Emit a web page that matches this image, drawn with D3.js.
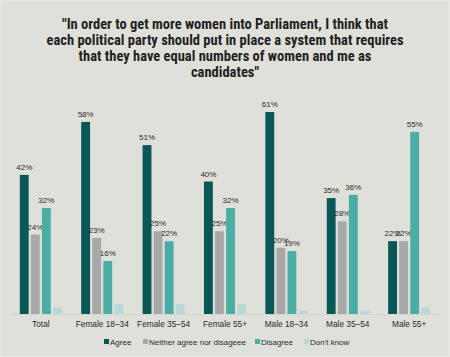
<!DOCTYPE html>
<html><head><meta charset="utf-8">
<script src="https://cdn.jsdelivr.net/npm/d3@7"></script>
<style>
html,body{margin:0;padding:0;background:#e0e0da;}
svg{display:block;}
</style></head>
<body>
<script>
const categories = ["Total","Female 18\u201334","Female 35\u201354","Female 55+","Male 18\u201334","Male 35\u201354","Male 55+"];
const seriesNames = ["Agree","Neither agree nor disageee","Disagree","Don't know"];
const agree    = [42,58,51,40,61,35,22];
const neither  = [24,23,25,25,20,28,22];
const disagree = [32,16,22,32,19,36,55];
const dontKnow = [2,3,3,3,1,1,2];
const titleLines = ["\"In order to get more women into Parliament, I think that",
  "each political party should put in place a system that requires",
  "that they have equal numbers of women and me as",
  "candidates\""];
const colors = ["#0a5757","#a8a8a8","#4aaea5","#b9d9d6"];
const series = [agree, neither, disagree, dontKnow];

const W = 450, H = 357;
const svg = d3.select("body").append("svg").attr("width", W).attr("height", H);
svg.append("rect").attr("x",0.5).attr("y",0.5).attr("width",W-1).attr("height",H-1)
  .attr("fill","#e0e0da").attr("stroke","#e8e8e3").attr("stroke-width",2);

const tfont = "'Liberation Sans Narrow','Roboto Condensed','Arial Narrow',Roboto,sans-serif";
const font = "'Liberation Sans',Arial,sans-serif";
const title = svg.append("text").attr("text-anchor","middle").attr("font-family",tfont)
  .attr("font-weight","bold").attr("font-size",14.5).attr("fill","#222");
titleLines.forEach((l,i)=>{
  title.append("tspan").attr("x",W/2).attr("y",29+i*16).text(l);
});

const x0 = d3.scaleBand().domain(categories).range([10,440]).paddingInner(0.315).paddingOuter(0.16);
const x1 = d3.scaleBand().domain(seriesNames).range([0,x0.bandwidth()]).paddingInner(0.2);
const y = d3.scaleLinear().domain([0,61]).range([314,112]);

svg.append("line").attr("x1",10).attr("x2",440).attr("y1",y(0)+0.5).attr("y2",y(0)+0.5)
  .attr("stroke","#d6d6d0").attr("stroke-width",1);

const g = svg.selectAll("g.grp").data(categories).join("g").attr("class","grp")
  .attr("transform",d=>`translate(${x0(d)},0)`);

seriesNames.forEach((s,si)=>{
  g.append("rect").attr("x",x1(s)).attr("width",x1.bandwidth())
    .attr("y",(d,i)=>y(series[si][i])).attr("height",(d,i)=>y(0)-y(series[si][i]))
    .attr("fill",colors[si]);
  if (si<3) {
    g.append("text").attr("x",x1(s)+x1.bandwidth()/2).attr("y",(d,i)=>y(series[si][i])-5)
      .attr("text-anchor","middle").attr("font-family",font).attr("font-size",8)
      .attr("fill","#2a2a2a").text((d,i)=>series[si][i]+"%");
  }
});

const xAxis = svg.append("g").attr("transform",`translate(0,${y(0)})`)
  .call(d3.axisBottom(x0).tickSize(0).tickPadding(7));
xAxis.select(".domain").remove();
xAxis.selectAll("text").attr("font-family",font).attr("font-size",8.3).attr("fill","#2a2a2a");

const legend = svg.append("g").attr("transform","translate(0,345)");
const legX = [104,143,255,304];
seriesNames.forEach((s,i)=>{
  legend.append("rect").attr("x",legX[i]).attr("y",-6).attr("width",5).attr("height",5).attr("fill",colors[i]);
  legend.append("text").attr("x",legX[i]+6).attr("y",0).attr("font-family",font)
    .attr("font-size",8).attr("fill","#2a2a2a").text(s);
});
</script>
</body></html>
